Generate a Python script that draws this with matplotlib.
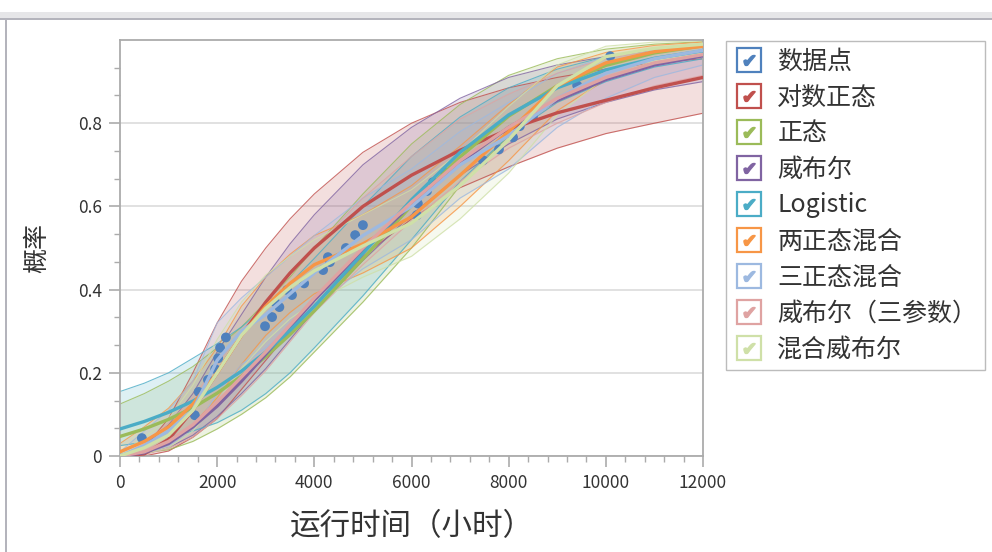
import matplotlib
matplotlib.use("Agg")
import matplotlib.pyplot as plt
from matplotlib.lines import Line2D
from matplotlib.legend_handler import HandlerTuple
from matplotlib.patches import Rectangle
from matplotlib.ticker import AutoMinorLocator, FixedLocator

plt.rcParams['font.family'] = ['Noto Sans CJK SC', 'DejaVu Sans']

# data points (hours, cumulative probability)
point_hours = [450, 1540, 1620, 1810, 1960, 2020, 2060, 2180, 2985, 3130, 3190, 3280,
               3440, 3540, 3790, 4180, 4280, 4320, 4650, 4840, 5000, 6110, 6130, 6320,
               6440, 6690, 7470, 7800, 8090, 8230, 8500, 9410, 10090]
point_prob = [0.043, 0.098, 0.154, 0.183, 0.209, 0.235, 0.260, 0.285, 0.312, 0.334, 0.370, 0.358,
              0.399, 0.387, 0.415, 0.447, 0.478, 0.466, 0.500, 0.531, 0.555, 0.579, 0.607, 0.637,
              0.658, 0.682, 0.711, 0.737, 0.766, 0.793, 0.816, 0.891, 0.961]

hours = [0, 500, 1000, 1500, 2000, 2500, 3000, 3500, 4000, 5000, 6000, 7000, 8000, 9000,
         10000, 11000, 12000]

lognorm = [0, 0.005, 0.04, 0.11, 0.20, 0.29, 0.37, 0.44, 0.50, 0.60, 0.675, 0.735, 0.785, 0.825, 0.855, 0.885, 0.91]
lognorm_lo = [0, 0, 0.012, 0.045, 0.09, 0.16, 0.23, 0.30, 0.36, 0.48, 0.57, 0.645, 0.695, 0.74, 0.775, 0.80, 0.824]
lognorm_hi = [0, 0.02, 0.09, 0.20, 0.32, 0.42, 0.50, 0.57, 0.63, 0.73, 0.80, 0.85, 0.885, 0.91, 0.93, 0.945, 0.955]

normal = [0.047, 0.065, 0.088, 0.116, 0.151, 0.192, 0.239, 0.292, 0.349, 0.474, 0.602, 0.719, 0.817, 0.890, 0.939, 0.969, 0.986]
normal_lo = [0.005, 0.008, 0.015, 0.035, 0.065, 0.10, 0.14, 0.19, 0.25, 0.37, 0.50, 0.65, 0.77, 0.86, 0.92, 0.955, 0.975]
normal_hi = [0.125, 0.15, 0.18, 0.215, 0.26, 0.31, 0.37, 0.43, 0.50, 0.63, 0.75, 0.845, 0.915, 0.955, 0.978, 0.99, 0.996]

weibull = [0, 0.008, 0.03, 0.07, 0.12, 0.18, 0.245, 0.31, 0.375, 0.495, 0.605, 0.705, 0.79, 0.855, 0.905, 0.94, 0.962]
weibull_lo = [0, 0.005, 0.02, 0.05, 0.095, 0.15, 0.21, 0.28, 0.35, 0.47, 0.58, 0.675, 0.75, 0.81, 0.85, 0.88, 0.90]
weibull_hi = [0, 0.025, 0.075, 0.15, 0.25, 0.34, 0.43, 0.51, 0.58, 0.70, 0.79, 0.86, 0.91, 0.94, 0.96, 0.975, 0.985]

logistic = [0.065, 0.083, 0.105, 0.132, 0.165, 0.204, 0.25, 0.302, 0.36, 0.487, 0.616, 0.73, 0.82, 0.885, 0.928, 0.956, 0.974]
logistic_lo = [0.025, 0.033, 0.045, 0.06, 0.08, 0.11, 0.15, 0.20, 0.26, 0.385, 0.52, 0.66, 0.77, 0.85, 0.90, 0.935, 0.955]
logistic_hi = [0.155, 0.175, 0.20, 0.235, 0.27, 0.31, 0.36, 0.415, 0.475, 0.60, 0.72, 0.815, 0.885, 0.93, 0.96, 0.978, 0.988]

mix2 = [0.01, 0.035, 0.07, 0.125, 0.20, 0.29, 0.36, 0.415, 0.46, 0.51, 0.575, 0.675, 0.78, 0.89, 0.945, 0.972, 0.985]
mix2_lo = [0, 0.01, 0.035, 0.075, 0.14, 0.22, 0.29, 0.345, 0.39, 0.44, 0.50, 0.60, 0.71, 0.83, 0.905, 0.945, 0.965]
mix2_hi = [0.03, 0.07, 0.115, 0.18, 0.26, 0.36, 0.43, 0.485, 0.53, 0.58, 0.65, 0.745, 0.845, 0.935, 0.97, 0.987, 0.995]

mix3 = [0, 0.025, 0.06, 0.11, 0.23, 0.30, 0.34, 0.39, 0.44, 0.53, 0.60, 0.70, 0.77, 0.86, 0.92, 0.955, 0.975]
mix3_lo = [0, 0.005, 0.025, 0.06, 0.15, 0.22, 0.26, 0.31, 0.36, 0.45, 0.52, 0.62, 0.69, 0.79, 0.86, 0.91, 0.94]
mix3_hi = [0.01, 0.06, 0.11, 0.18, 0.32, 0.38, 0.43, 0.48, 0.53, 0.62, 0.69, 0.78, 0.85, 0.92, 0.96, 0.98, 0.99]

weibull3 = [0, 0.01, 0.035, 0.075, 0.13, 0.19, 0.25, 0.315, 0.38, 0.50, 0.61, 0.71, 0.79, 0.86, 0.91, 0.945, 0.965]
weibull3_lo = [0, 0.004, 0.018, 0.045, 0.09, 0.145, 0.205, 0.275, 0.345, 0.46, 0.565, 0.66, 0.74, 0.80, 0.85, 0.89, 0.915]
weibull3_hi = [0, 0.03, 0.08, 0.14, 0.22, 0.30, 0.37, 0.435, 0.50, 0.62, 0.72, 0.81, 0.87, 0.92, 0.955, 0.975, 0.985]

mixweib = [0, 0.02, 0.05, 0.11, 0.20, 0.29, 0.355, 0.405, 0.445, 0.505, 0.56, 0.65, 0.76, 0.89, 0.96, 0.98, 0.99]
mixweib_lo = [0, 0.005, 0.02, 0.06, 0.13, 0.21, 0.275, 0.33, 0.37, 0.43, 0.48, 0.57, 0.68, 0.82, 0.91, 0.95, 0.97]
mixweib_hi = [0.005, 0.045, 0.09, 0.17, 0.28, 0.37, 0.435, 0.48, 0.52, 0.58, 0.64, 0.73, 0.84, 0.94, 0.985, 0.995, 0.998]

labels = ['数据点', '对数正态', '正态', '威布尔', 'Logistic', '两正态混合',
          '三正态混合', '威布尔（三参数）', '混合威布尔']
colors = ['#4F81BD', '#C0504D', '#9BBB59', '#8064A2', '#4BACC6', '#F79646',
          '#9DB9E0', '#DFA3A2', '#CFE0A8']

curves = [
    (lognorm, lognorm_lo, lognorm_hi),
    (normal, normal_lo, normal_hi),
    (weibull, weibull_lo, weibull_hi),
    (logistic, logistic_lo, logistic_hi),
    (mix2, mix2_lo, mix2_hi),
    (mix3, mix3_lo, mix3_hi),
    (weibull3, weibull3_lo, weibull3_hi),
    (mixweib, mixweib_lo, mixweib_hi),
]

fig = plt.figure(figsize=(9.92, 5.52), dpi=100)

# window frame
fig.patches.append(Rectangle((0, 1 - 18 / 552), 1, 6 / 552, transform=fig.transFigure,
                             facecolor='#E6E6E8', edgecolor='none'))
fig.patches.append(Rectangle((0, 1 - 20 / 552), 1, 2 / 552, transform=fig.transFigure,
                             facecolor='#B4B4BC', edgecolor='none'))
fig.patches.append(Rectangle((5 / 992, 0), 2 / 992, 1 - 20 / 552, transform=fig.transFigure,
                             facecolor='#B4B4BC', edgecolor='none'))

ax = fig.add_axes([120 / 992, 96 / 552, 583 / 992, 416 / 552])

# confidence bands
for (mid, lo, hi), c in zip(curves, colors[1:]):
    ax.fill_between(hours, lo, hi, color=c, alpha=0.18, lw=0, zorder=1)
    ax.plot(hours, lo, color=c, lw=0.8, alpha=0.8, zorder=2)
    ax.plot(hours, hi, color=c, lw=0.8, alpha=0.8, zorder=2)

ax.scatter(point_hours, point_prob, s=50, color=colors[0], edgecolors='none', zorder=3)

for (mid, lo, hi), c in zip(curves, colors[1:]):
    ax.plot(hours, mid, color=c, lw=2.4, zorder=4, solid_capstyle='round',
            solid_joinstyle='round')

ax.set_xlim(0, 12000)
ax.set_ylim(0, 1.0)
ax.xaxis.set_major_locator(FixedLocator([0, 2000, 4000, 6000, 8000, 10000, 12000]))
ax.xaxis.set_minor_locator(AutoMinorLocator(5))
ax.yaxis.set_major_locator(FixedLocator([0, 0.2, 0.4, 0.6, 0.8]))
ax.yaxis.set_minor_locator(FixedLocator([i * 0.2 / 3 for i in range(1, 15) if i % 3]))
ax.set_yticklabels(['0', '0.2', '0.4', '0.6', '0.8'])
ax.grid(axis='y', which='major', color='#DCDCDC', lw=1.2, zorder=0)
ax.set_axisbelow(True)

for s in ax.spines.values():
    s.set_color('#ABABAB')
    s.set_linewidth(1.3)
ax.tick_params(which='major', length=8, width=1.2, color='#ABABAB', labelsize=12.5,
               labelcolor='#333333', pad=5)
ax.tick_params(which='minor', length=4, width=1.0, color='#ABABAB')

ax.set_xlabel('运行时间（小时）', fontsize=22, color='#333333', labelpad=14)
ax.set_ylabel('概率', fontsize=18, color='#333333', labelpad=20)

# legend with check-box handles
handles = []
for c in colors:
    box = Line2D([], [], ls='', marker='s', ms=17, mfc='white', mec=c, mew=1.6)
    tick = Line2D([], [], ls='', marker='$\u2714$', ms=8, color=c)
    handles.append((box, tick))

fig.legend(handles, labels, loc='upper left', bbox_to_anchor=(726 / 992, 1 - 41 / 552),
           handler_map={tuple: HandlerTuple(ndivide=1)}, fontsize=18, frameon=True,
           fancybox=False, edgecolor='#ABABAB', labelspacing=0.40, handlelength=1.25,
           handletextpad=0.5, borderpad=0.3, borderaxespad=0, labelcolor='#333333')

fig.savefig('out.png', dpi=100)
